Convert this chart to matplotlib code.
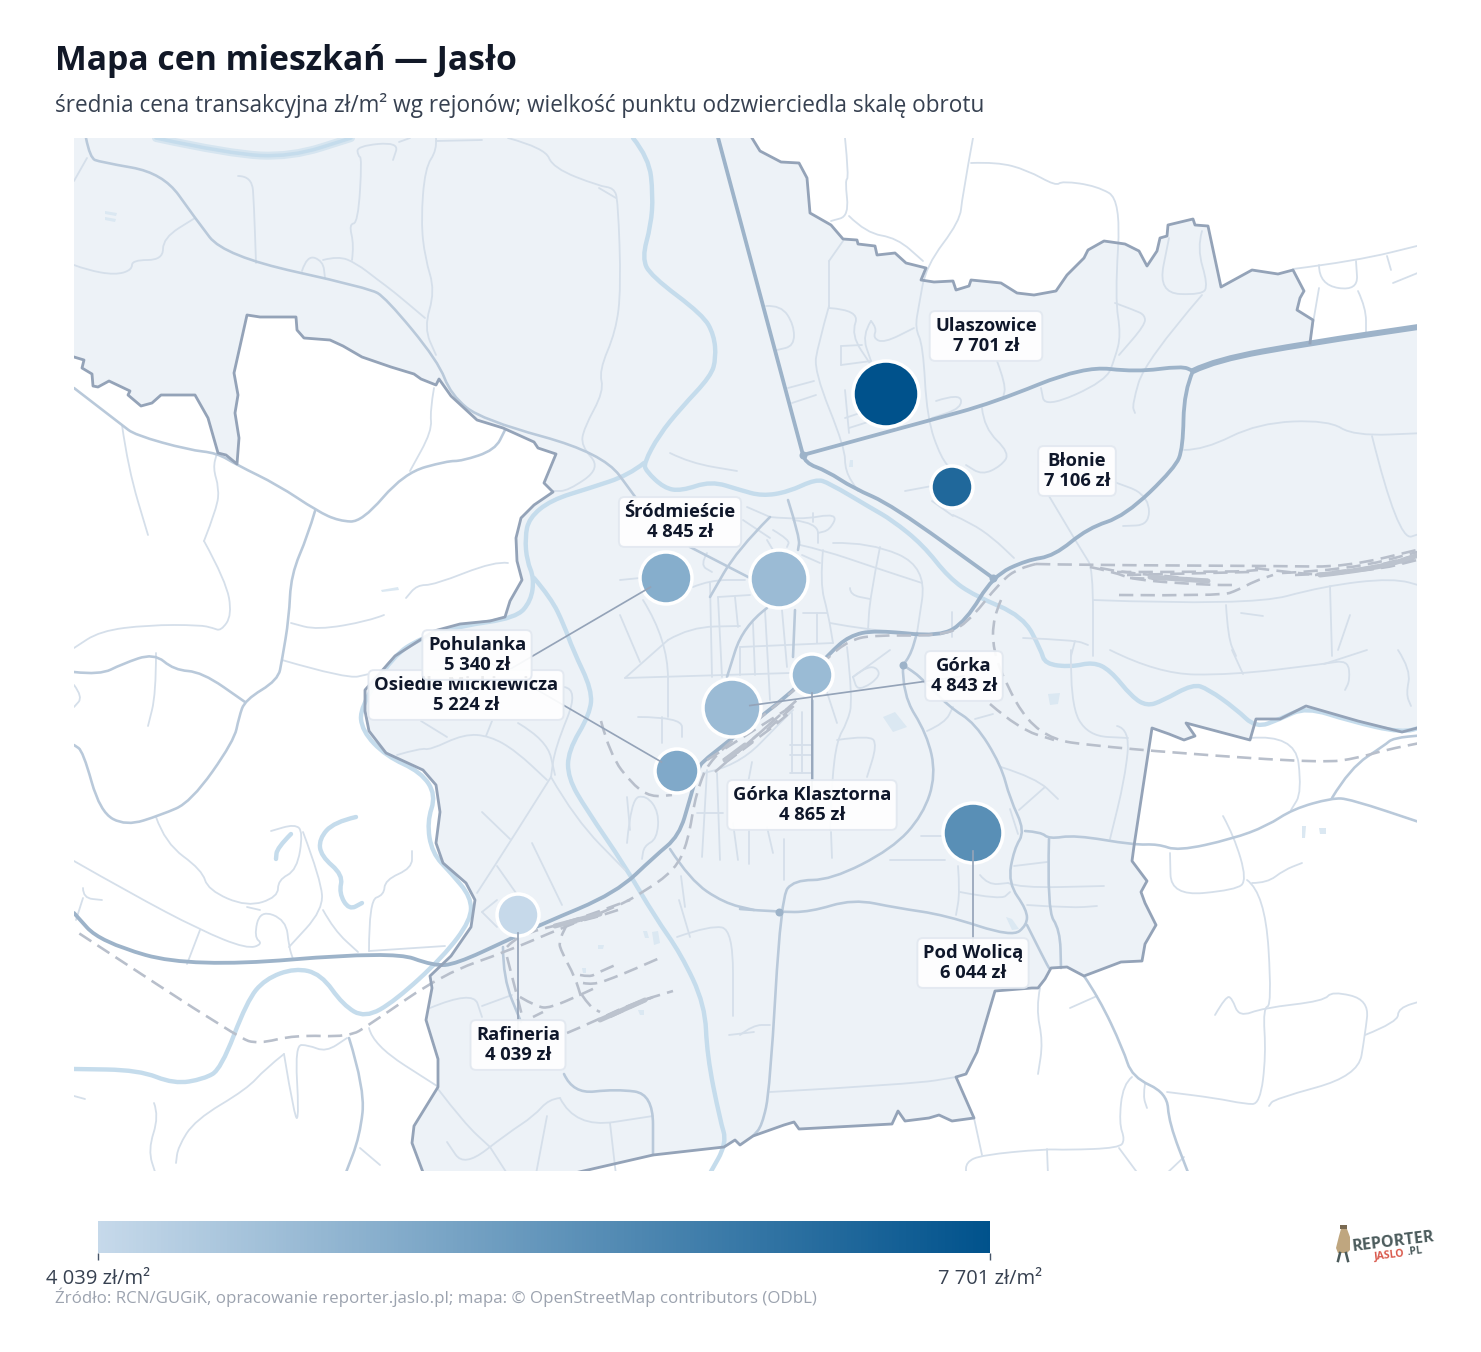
#!/usr/bin/env python3
"""
Mapa cen mieszkan - Jaslo
"""

import matplotlib
matplotlib.use("Agg")
import matplotlib.pyplot as plt
from matplotlib.colors import LinearSegmentedColormap, Normalize
from matplotlib.cm import ScalarMappable
from matplotlib.patches import PathPatch, Polygon
from matplotlib.path import Path

# Districts: price, map position, drawn radius (turnover scale), label centre
REJONY = ["Ulaszowice", "Błonie", "Śródmieście", "Osiedle Mickiewicza", "Pohulanka",
          "Górka", "Górka Klasztorna", "Pod Wolicą", "Rafineria"]
CENY = [7701, 7106, 4845, 5224, 5340, 4843, 4865, 6044, 4039]
PUNKT_X = [886, 952, 779, 666, 677, 732, 812, 973, 518]
PUNKT_Y = [394, 487, 579, 578, 771, 708, 675, 833, 915]
PUNKT_R = [33, 21, 29, 26, 22, 29, 21, 30, 21]
ETYKIETA_X = [986, 1077, 680, 466, 477, 964, 812, 973, 518]
ETYKIETA_Y = [336, 471, 522, 695, 655, 676, 805, 963, 1045]
Z_LINIA = [False, False, False, True, True, True, True, True, True]

# Map geometry, in map units of the reference view
GRANICA_POLUDNIE = [
    (60, 353), (74, 357), (84, 360), (82, 368), (92, 374), (93, 386), (98, 387), (109, 381), (130, 391), (128, 395),
    (141, 406), (152, 403), (161, 395), (195, 395), (208, 418), (218, 453), (226, 455), (237, 464), (239, 438),
    (235, 413), (238, 395), (234, 373), (247, 315), (260, 317), (296, 317), (297, 330), (304, 338), (330, 340),
    (343, 346), (362, 357), (391, 367), (414, 374), (421, 379), (436, 385), (439, 379), (451, 396), (477, 420),
    (503, 428), (534, 442), (538, 448), (556, 454), (544, 483), (553, 492), (534, 505), (521, 518), (516, 538),
    (517, 561), (522, 580), (510, 601), (505, 617), (490, 621), (460, 624), (434, 631), (395, 656), (365, 690),
    (365, 711), (369, 731), (386, 753), (423, 770), (436, 785), (440, 812), (436, 843), (443, 863), (466, 883),
    (475, 900), (471, 927), (451, 956), (430, 976), (432, 988), (426, 1020), (438, 1059), (438, 1087), (414, 1126),
    (412, 1143), (424, 1175), (440, 1195), (550, 1195), (566, 1175), (653, 1155), (724, 1147), (735, 1140),
    (740, 1145), (753, 1136), (784, 1125), (794, 1122), (799, 1129), (892, 1124), (898, 1111), (905, 1121),
    (929, 1118), (939, 1115), (952, 1121), (974, 1118), (956, 1077), (966, 1074), (977, 1052), (995, 991),
    (1032, 988), (1038, 988), (1045, 979), (1051, 968), (1067, 967), (1084, 976), (1121, 962), (1142, 961),
    (1145, 944), (1156, 925), (1145, 903), (1141, 892), (1147, 881), (1132, 861), (1134, 846), (1152, 728),
    (1169, 734), (1184, 740), (1195, 736), (1186, 723), (1250, 740), (1256, 719), (1280, 719), (1306, 706),
    (1358, 721), (1402, 732), (1425, 726),
]
GRANICA_POLNOC = [
    (1310, 343), (1313, 320), (1297, 310), (1300, 298),
    (1304, 291), (1293, 270), (1278, 274), (1252, 270), (1221, 287), (1208, 226), (1195, 225), (1193, 219),
    (1168, 225), (1167, 236), (1160, 238), (1157, 251), (1147, 266), (1139, 251), (1125, 244), (1104, 241),
    (1088, 250), (1084, 258), (1067, 275), (1056, 291), (1034, 295), (1017, 293), (1001, 283), (971, 280),
    (969, 286), (956, 290), (953, 281), (934, 282), (921, 280), (926, 268), (906, 263), (895, 253), (877, 255),
    (875, 246), (858, 244), (857, 240), (843, 239), (831, 225), (810, 213), (807, 178), (799, 163), (781, 162),
    (760, 151), (752, 138), (745, 125),
]
NAROZNIKI = [(60, 125)]

WODA = [
    [(633, 138), (649, 158), (653, 195), (651, 225), (642, 258), (651, 276), (703, 315), (714, 335), (716, 358),
     (711, 376), (681, 408), (659, 435), (644, 463), (646, 471), (664, 488), (681, 491), (711, 481), (740, 490),
     (762, 496), (788, 492), (816, 479), (829, 483), (871, 508), (892, 520), (923, 545), (949, 578), (975, 596),
     (1023, 616), (1041, 650), (1045, 664), (1071, 667), (1093, 662), (1110, 670), (1132, 697), (1147, 706),
     (1162, 701), (1193, 684), (1208, 689), (1236, 709), (1256, 728), (1280, 719), (1306, 707), (1350, 721),
     (1402, 733), (1425, 726)],
    [(644, 463), (629, 475), (590, 488), (551, 500), (529, 518), (525, 538), (527, 561), (534, 578), (531, 601),
     (516, 618), (460, 626), (421, 638), (393, 656), (360, 707), (362, 731), (386, 756), (421, 772), (436, 795),
     (427, 822), (432, 853), (451, 873), (471, 897), (471, 920), (443, 957), (395, 1001), (365, 1018), (343, 1005),
     (321, 974), (295, 968), (265, 979), (247, 1001), (221, 1069), (204, 1079), (174, 1084), (139, 1070), (74, 1069)],
    [(534, 578), (551, 598), (564, 625), (573, 650), (592, 690), (590, 714), (568, 751), (568, 778), (586, 809),
     (625, 866), (655, 917), (681, 954), (705, 1005), (707, 1055), (720, 1120), (727, 1143), (709, 1175)],
    [(356, 817), (334, 822), (319, 839), (321, 856), (343, 875), (339, 893), (349, 910), (362, 903)],
    [(291, 834), (277, 848), (276, 859)],
]
WODA_SZEROKA = [(156, 138), (230, 154), (291, 157), (351, 138)]

STAWY = [
    [(105, 211), (117, 213), (116, 216), (105, 214)], [(105, 217), (116, 219), (115, 222), (105, 220)],
    [(883, 717), (895, 712), (907, 727), (893, 732)], [(1048, 694), (1060, 693), (1058, 704), (1050, 705)],
    [(1006, 917), (1012, 919), (1019, 929), (1012, 930)], [(1302, 826), (1306, 826), (1305, 838), (1302, 838)],
    [(1319, 828), (1326, 828), (1326, 834), (1320, 834)], [(643, 931), (647, 931), (649, 938), (645, 938)],
    [(652, 932), (658, 931), (660, 943), (654, 945)], [(598, 945), (604, 945), (603, 949), (598, 949)],
    [(582, 968), (586, 968), (586, 973), (583, 973)], [(638, 1010), (644, 1010), (644, 1015), (640, 1015)],
    [(850, 460), (853, 460), (853, 467), (849, 467)], [(381, 590), (398, 587), (399, 590), (382, 592)],
]

DROGI_GLOWNE = [
    [(716, 130), (803, 455)],
    [(803, 455), (927, 421), (993, 403), (1084, 366), (1136, 372), (1182, 366), (1193, 371)],
    [(1193, 371), (1184, 391), (1183, 448), (1175, 468), (1125, 516), (1088, 528), (1054, 556), (1027, 560),
     (993, 576), (966, 621), (940, 637), (875, 630), (849, 636), (830, 653), (790, 695), (703, 760), (698, 770),
     (690, 799), (679, 836), (655, 856), (616, 893), (542, 924), (508, 940), (456, 964), (434, 966), (393, 951),
     (191, 968), (100, 942), (74, 913)],
    [(803, 455), (805, 463), (827, 471), (853, 488), (892, 505), (993, 578)],
]
DROGA_SZEROKA = [(1193, 371), (1215, 360), (1310, 343), (1425, 326)]

DROGI_SREDNIE = [
    [(903, 665), (902, 694), (927, 734), (936, 775), (923, 815), (892, 849), (831, 880), (794, 880), (781, 897),
     (770, 1089), (762, 1126), (753, 1136)],
    [(903, 665), (910, 657), (917, 633)],
    [(86, 138), (90, 158), (100, 162), (163, 173), (195, 218), (224, 256), (369, 288), (386, 298), (438, 361),
     (451, 395), (482, 420), (603, 453), (636, 498)],
    [(690, 547), (750, 578)],
    [(74, 388), (122, 425), (135, 435), (189, 450), (217, 453), (237, 465), (278, 485), (317, 511), (339, 521),
     (362, 522), (404, 473), (447, 461), (462, 461), (495, 450), (505, 430)],
    [(315, 511), (308, 535), (291, 575), (289, 618), (282, 660), (278, 680), (245, 700), (239, 717), (234, 741),
     (191, 802), (161, 815), (126, 826), (100, 812), (83, 751), (74, 745)],
    [(74, 672), (100, 675), (122, 664), (154, 653), (174, 670), (202, 672), (245, 702)],
    [(740, 909), (779, 912), (810, 912), (853, 899), (897, 908), (945, 915), (1012, 937), (1027, 925), (1027, 910),
     (1008, 883), (1014, 849), (1025, 831), (1010, 799), (1001, 765), (975, 723), (949, 707), (921, 677), (903, 665)],
    [(1025, 831), (1041, 832), (1049, 839), (1075, 835), (1134, 845), (1158, 844), (1178, 851), (1232, 839),
     (1267, 826), (1293, 809), (1332, 798), (1350, 799), (1425, 824)],
    [(1332, 798), (1350, 768), (1385, 745), (1393, 738), (1425, 735)],
    [(1084, 976), (1099, 998), (1123, 1049), (1132, 1077), (1167, 1093), (1169, 1123), (1189, 1175)],
    [(564, 1074), (573, 1094), (616, 1089), (653, 1094), (653, 1155)],
    [(349, 1038), (365, 1089), (360, 1136), (345, 1175)],
    [(670, 849), (690, 880), (724, 903), (754, 910)],
    [(503, 947), (503, 978), (521, 1022)],
    [(788, 500), (800, 538), (798, 550)],
    [(770, 517), (737, 550), (710, 597)],
    [(767, 608), (743, 626), (727, 677)],
    [(795, 610), (793, 657)],
    [(1049, 839), (1047, 910), (1060, 930), (1061, 968)],
    [(1027, 925), (1045, 961), (1049, 968)],
    [(812, 700), (812, 780)],
]

DROGI_MALE = [
    [(74, 265), (87, 270), (115, 275), (132, 270), (132, 260), (163, 260), (163, 238), (195, 218)],
    [(238, 176), (252, 176), (254, 205), (256, 263)], [(87, 158), (74, 181)],
    [(302, 271), (307, 255), (323, 261), (325, 278)],
    [(323, 260), (338, 256), (356, 263), (378, 280), (393, 291), (425, 318)],
    [(352, 260), (354, 245), (349, 224), (358, 223), (362, 158), (358, 156), (357, 146), (399, 142), (393, 160)],
    [(399, 142), (410, 138)], [(436, 138), (437, 150), (425, 168), (421, 221), (425, 258), (435, 291), (424, 328), (436, 355)],
    [(436, 141), (482, 140)],
    [(508, 138), (545, 148), (553, 168), (599, 186), (614, 188), (618, 201), (621, 288), (616, 331), (599, 371),
     (604, 391), (584, 428), (581, 446), (601, 468), (568, 491), (553, 491)],
    [(670, 453), (690, 463), (737, 471)], [(599, 188), (616, 198)],
    [(434, 388), (430, 411), (432, 431), (410, 471)],
    [(204, 541), (217, 508), (219, 488), (213, 468), (217, 453)],
    [(204, 541), (226, 581), (232, 615), (221, 631), (213, 628), (200, 625), (148, 625), (100, 631), (74, 648)],
    [(122, 425), (128, 468), (148, 535)],
    [(508, 563), (495, 561), (434, 585), (417, 585), (406, 598)], [(384, 615), (369, 621), (317, 630), (291, 623)],
    [(845, 138), (849, 178), (845, 180), (849, 216), (831, 221)], [(849, 216), (866, 233), (897, 238), (923, 261)],
    [(973, 138), (962, 198), (960, 221), (926, 266), (919, 305), (915, 328), (923, 345), (927, 418), (941, 458), (953, 471)],
    [(971, 163), (997, 162), (1027, 170), (1056, 186), (1062, 181), (1097, 186), (1121, 200), (1115, 298), (1121, 335),
     (1115, 358), (1106, 381), (1045, 408), (1041, 388)],
    [(1202, 231), (1197, 248), (1208, 285), (1202, 295), (1158, 293), (1169, 238)],
    [(1202, 295), (1145, 361), (1132, 405), (1135, 413)],
    [(1115, 303), (1134, 310), (1145, 315), (1145, 325), (1119, 355)],
    [(1293, 269), (1356, 261), (1425, 244)], [(1319, 265), (1319, 285), (1358, 291), (1356, 261)],
    [(1319, 288), (1311, 335)], [(1358, 291), (1366, 308), (1366, 333)], [(1387, 256), (1391, 270)], [(1393, 283), (1425, 270)],
    [(766, 306), (781, 305), (794, 325), (794, 346), (777, 350)], [(788, 388), (814, 381)], [(816, 395), (792, 403)],
    [(829, 306), (818, 345), (814, 371), (845, 448), (845, 471), (858, 491)], [(829, 261), (843, 241)], [(829, 261), (829, 308)],
    [(829, 308), (860, 310), (851, 335), (871, 365)], [(871, 321), (877, 328), (873, 338), (884, 343), (914, 328)],
    [(871, 321), (862, 335), (871, 361)], [(841, 346), (862, 345)], [(841, 365), (871, 361)], [(841, 346), (841, 365)],
    [(845, 390), (849, 433)], [(845, 418), (866, 411)], [(849, 428), (871, 421)],
    [(936, 401), (960, 393), (962, 408), (932, 418)], [(997, 361), (1006, 385), (1003, 398)],
    [(982, 408), (984, 428), (1010, 453), (1001, 466), (982, 475), (966, 465)],
    [(953, 515), (971, 523), (993, 538), (1014, 558)], [(905, 491), (932, 486)], [(932, 501), (953, 516)],
    [(1049, 496), (1084, 555), (1093, 568), (1093, 656)],
    [(1041, 461), (1123, 483), (1149, 498), (1149, 525), (1123, 526)],
    [(1184, 450), (1204, 450), (1258, 423), (1328, 420), (1354, 436), (1425, 433)],
    [(1372, 436), (1398, 541), (1425, 532)],
    [(1093, 600), (1250, 606), (1324, 586), (1393, 578), (1425, 587)], [(1330, 586), (1332, 656)],
    [(1226, 605), (1228, 638), (1236, 656)], [(1023, 638), (1075, 640), (1088, 645)], [(1075, 641), (1071, 656)],
    [(1241, 613), (1263, 616)], [(1350, 615), (1338, 650)],
    [(1071, 650), (1070, 704), (1088, 736), (1128, 738)],
    [(1110, 650), (1158, 674), (1232, 675), (1324, 664), (1348, 660), (1350, 680), (1345, 690)],
    [(1232, 650), (1243, 674)], [(1324, 664), (1367, 650)], [(1398, 650), (1411, 670), (1406, 694), (1411, 706)],
    [(1117, 726), (1130, 729), (1125, 778), (1110, 839)],
    [(1250, 738), (1295, 734), (1302, 792), (1291, 810)],
    [(1223, 816), (1234, 836), (1247, 880), (1236, 890), (1171, 896), (1170, 853)],
    [(1247, 880), (1265, 893), (1272, 1005), (1263, 1008), (1266, 1055), (1260, 1104), (1245, 1104), (1215, 1098), (1167, 1092)],
    [(1252, 883), (1267, 883), (1284, 870), (1302, 863)],
    [(1215, 1015), (1226, 996), (1232, 998), (1239, 1017), (1263, 1008), (1324, 1001), (1332, 991), (1369, 1000),
     (1365, 1035), (1358, 1076), (1274, 1099), (1269, 1106)],
    [(1365, 1035), (1398, 1022), (1398, 1008), (1425, 1000)],
    [(1132, 1077), (1123, 1084), (1119, 1123), (1125, 1140), (1119, 1148), (1067, 1150), (1045, 1149), (982, 1155), (966, 1162), (966, 1175)],
    [(1119, 1148), (1139, 1175)], [(1047, 1149), (1048, 1175)], [(974, 1118), (982, 1155)], [(1184, 1157), (1165, 1175)],
    [(1145, 1084), (1143, 1096), (1147, 1108)], [(1070, 1008), (1097, 996)],
    [(1040, 988), (1036, 1008), (1043, 1042), (1038, 1074)],
    [(1008, 883), (1019, 888), (1104, 886)], [(1027, 905), (1071, 908), (1097, 906)], [(1014, 866), (1047, 862)],
    [(958, 866), (960, 892), (956, 915)], [(960, 892), (1001, 900), (1010, 892)], [(980, 875), (988, 885), (1008, 883)],
    [(890, 860), (945, 860)], [(921, 836), (945, 836)],
    [(1001, 767), (1036, 778), (1058, 799)], [(1045, 787), (1019, 810)], [(1010, 809), (1018, 834)],
    [(975, 719), (993, 714)], [(927, 731), (945, 723), (953, 707)],
    [(770, 1092), (914, 1084), (956, 1077)], [(740, 1035), (753, 1025), (770, 1025)],
    [(430, 1008), (473, 990), (482, 1017)], [(482, 1006), (512, 995)],
    [(560, 1098), (575, 1128), (653, 1116)], [(560, 1098), (549, 1099), (534, 1116), (508, 1133), (464, 1167), (447, 1142)],
    [(547, 1116), (536, 1174)], [(490, 1147), (508, 1175)], [(610, 1123), (616, 1175)],
    [(438, 1089), (464, 1123), (490, 1147)],
    [(360, 1148), (380, 1165)], [(369, 1028), (373, 1045), (437, 1086)],
    [(284, 1054), (295, 1121), (299, 1115), (295, 1045), (308, 1045), (326, 1052), (347, 1038)],
    [(284, 1054), (265, 1069), (247, 1089), (195, 1120), (178, 1147), (176, 1163)],
    [(154, 1103), (159, 1116), (148, 1150), (156, 1175)], [(74, 1096), (85, 1099)],
    [(156, 653), (156, 694), (148, 726)],
    [(74, 861), (130, 893), (200, 930), (247, 949), (263, 944), (254, 937), (260, 910), (286, 920), (289, 947), (293, 959)],
    [(200, 930), (187, 964)],
    [(156, 817), (165, 843), (202, 870), (208, 890), (247, 907), (278, 897), (278, 880), (297, 870), (303, 832), (295, 824), (271, 831)],
    [(247, 907), (260, 910)], [(303, 832), (321, 880), (323, 910), (289, 947)],
    [(323, 910), (334, 930), (358, 952)],
    [(369, 951), (369, 900), (384, 895), (385, 880), (412, 868), (412, 851)], [(369, 951), (445, 946)],
    [(83, 888), (83, 898), (102, 900)], [(83, 898), (76, 920)], [(74, 685), (83, 697), (74, 707)],
    [(282, 660), (347, 679), (369, 674)],
    [(397, 755), (421, 748), (430, 750), (464, 734), (490, 736), (516, 751), (547, 780)],
    [(421, 721), (447, 737)], [(492, 721), (486, 736)], [(518, 723), (547, 740), (555, 775)],
    [(551, 777), (512, 839), (477, 893)], [(564, 687), (579, 689), (555, 748), (551, 777)],
    [(551, 777), (575, 819), (625, 870)], [(482, 812), (510, 839)], [(532, 843), (562, 905)], [(497, 866), (516, 893)],
    [(482, 912), (497, 900)], [(482, 912), (497, 927)],
    [(681, 876), (685, 907)], [(677, 937), (711, 925), (733, 930), (733, 1016)], [(690, 937), (679, 900)],
    [(729, 1035), (754, 1032)],
    [(627, 843), (631, 799), (646, 795), (659, 812), (657, 839), (644, 846), (642, 859)],
    # city centre
    [(620, 580), (640, 578)], [(693, 587), (710, 580), (745, 580)],
    [(643, 600), (668, 640), (668, 717)], [(668, 640), (690, 627), (740, 626)], [(620, 615), (640, 662)],
    [(625, 678), (668, 640)], [(625, 678), (790, 673)], [(710, 583), (712, 677)], [(718, 597), (722, 677)],
    [(718, 597), (750, 595)], [(735, 597), (738, 627)], [(770, 517), (800, 520), (838, 513), (830, 530), (818, 533)],
    [(793, 520), (818, 523), (818, 543)], [(813, 513), (813, 522)],
    [(800, 545), (823, 550), (873, 567), (922, 583)], [(802, 555), (820, 563)],
    [(833, 543), (870, 542), (927, 567), (917, 633)], [(880, 547), (870, 597), (868, 630)],
    [(850, 588), (850, 595), (870, 599)], [(823, 550), (820, 583), (828, 613), (833, 643)], [(830, 623), (868, 630), (917, 633)],
    [(753, 623), (755, 675)], [(765, 610), (770, 700)], [(782, 610), (787, 667)], [(817, 613), (817, 643)],
    [(803, 613), (827, 613)], [(740, 647), (833, 643)], [(740, 647), (740, 675)],
    [(743, 520), (770, 538)], [(747, 507), (770, 517)],
    [(773, 530), (790, 540), (787, 547)], [(767, 540), (773, 550)], [(707, 553), (700, 565), (712, 572)],
    [(952, 612), (952, 637)], [(638, 717), (682, 717), (682, 737)], [(662, 717), (662, 743)],
    [(847, 647), (853, 700), (847, 723), (837, 740), (832, 780), (830, 830)],
    [(853, 677), (870, 663), (883, 675), (858, 692), (853, 677)], [(890, 650), (853, 677)], [(903, 665), (920, 677)],
    [(792, 713), (792, 773)], [(802, 712), (802, 773)], [(790, 745), (812, 745)], [(790, 755), (812, 755)], [(790, 773), (812, 773)],
    [(837, 740), (870, 735), (877, 745), (867, 777)], [(823, 680), (837, 723)],
    [(703, 773), (737, 767), (783, 720), (793, 710)], [(707, 770), (702, 857)], [(717, 773), (720, 860)],
    [(733, 823), (738, 860)], [(752, 762), (748, 783)], [(697, 813), (723, 813)], [(767, 827), (773, 853)],
    [(749, 829), (749, 864)], [(831, 832), (832, 858)], [(784, 880), (784, 839)], [(627, 797), (630, 830)],
]

TORY = [
    [(1036, 564), (1019, 568), (1001, 581), (966, 625), (940, 636), (871, 635), (849, 641), (829, 656), (790, 695),
     (712, 755), (696, 792), (688, 842), (675, 870), (642, 893), (616, 907), (564, 927), (508, 951), (443, 974),
     (369, 1025), (349, 1037), (295, 1035), (258, 1044), (239, 1038), (74, 930)],
    [(1036, 564), (1080, 565), (1282, 566), (1346, 567), (1425, 548)],
    [(1090, 567), (1114, 572), (1134, 580), (1208, 585), (1235, 585)], [(1100, 568), (1124, 573), (1181, 577), (1208, 582)],
    [(1117, 572), (1235, 572), (1258, 570)], [(1127, 575), (1208, 573), (1250, 572)], [(1130, 578), (1181, 580), (1208, 580)],
    [(1255, 568), (1285, 572), (1322, 575), (1349, 573), (1425, 553)], [(1282, 573), (1349, 570), (1425, 550)],
    [(1295, 575), (1369, 572), (1425, 558)], [(1315, 575), (1376, 570), (1425, 555)], [(1332, 572), (1383, 567), (1425, 552)],
    [(1119, 595), (1221, 596), (1238, 590), (1255, 581), (1273, 575)],
    [(1001, 600), (993, 618), (993, 650), (1006, 684), (1027, 721), (1054, 740), (1088, 745), (1176, 753), (1324, 763),
     (1358, 758), (1385, 750), (1425, 742)],
    [(990, 704), (1019, 729), (1054, 740)],
    [(507, 947), (517, 935), (567, 923), (630, 900)], [(563, 925), (587, 920), (618, 910)],
    [(568, 923), (558, 940), (562, 953), (575, 977), (582, 1000)], [(580, 975), (590, 977), (597, 973), (620, 963)],
    [(583, 983), (593, 985), (613, 978), (637, 968), (662, 957)],
    [(520, 997), (537, 1007), (550, 1008), (580, 995), (597, 987)], [(533, 1017), (543, 1012)],
    [(582, 995), (590, 1007), (600, 1012)], [(567, 1033), (593, 1022), (633, 1003), (673, 991)],
    [(600, 1020), (650, 998)], [(610, 1017), (653, 997)], [(507, 957), (520, 1007), (523, 1020)],
    [(601, 721), (610, 755), (633, 785), (651, 797), (672, 795)],
    [(707, 760), (797, 703)], [(723, 760), (757, 740), (793, 710)], [(725, 763), (753, 742)], [(737, 753), (797, 700)],
    [(767, 730), (797, 703)], [(715, 772), (780, 715)],
]
# sidings packed so tightly that they read as a solid band
TORY_GESTE = [
    [(1320, 575), (1376, 569), (1425, 553)],
    [(1150, 577), (1208, 581)],
    [(600, 1020), (645, 1000)],
    [(555, 926), (600, 914)],
    [(725, 760), (745, 745)],
]

WEZLY_X = [803, 993, 903, 779]
WEZLY_Y = [455, 578, 665, 912]

KOLOR_WYPELNIENIE = "#edf2f7"
cmap = LinearSegmentedColormap.from_list("ceny", ["#c6d9ea", "#00528c"])
norm = Normalize(min(CENY), max(CENY))
PX = 72 / 100  # points per pixel at dpi=100


def smooth(pts):
    """Path through the midpoints of a polyline, so map lines bend softly"""
    verts = [pts[0]]
    codes = [Path.MOVETO]
    for i in range(1, len(pts) - 1):
        mid = ((pts[i][0] + pts[i + 1][0]) / 2, (pts[i][1] + pts[i + 1][1]) / 2)
        verts += [pts[i], mid]
        codes += [Path.CURVE3, Path.CURVE3]
    verts.append(pts[-1])
    codes.append(Path.LINETO)
    return Path(verts, codes)


def draw_lines(ax, lines, color, width, zorder, **kw):
    for pts in lines:
        ax.add_patch(PathPatch(smooth(pts), fc="none", ec=color, lw=width * PX, zorder=zorder,
                               capstyle="butt" if "linestyle" in kw else "round", joinstyle="round", **kw))


def draw_map(ax):
    obszar = GRANICA_POLUDNIE + [(1425, 326)] + GRANICA_POLNOC + NAROZNIKI
    ax.add_patch(Polygon(obszar, closed=True, fc=KOLOR_WYPELNIENIE, ec="none", zorder=1))
    draw_lines(ax, [WODA_SZEROKA], "#d6e5f0", 8, 2)
    draw_lines(ax, [WODA_SZEROKA], "#c5dcec", 3.5, 2)
    draw_lines(ax, WODA, "#c5dcec", 4.4, 2)
    for staw in STAWY:
        ax.add_patch(Polygon(staw, closed=True, fc="#dbe8f2", ec="none", zorder=2))
    draw_lines(ax, DROGI_MALE, "#d5dfea", 1.8, 3)
    draw_lines(ax, DROGI_SREDNIE, "#b9c9da", 2.6, 4)
    draw_lines(ax, DROGI_GLOWNE, "#9db3c9", 3.8, 5)
    draw_lines(ax, [DROGA_SZEROKA], "#9db3c9", 6, 5)
    ax.plot(WEZLY_X, WEZLY_Y, "o", ms=8 * PX, color="#9db3c9", mec="none", zorder=5)
    draw_lines(ax, TORY, "#b8bfcb", 2.6, 6, linestyle=(0, (5.5, 2.8)))
    draw_lines(ax, TORY_GESTE, "#bcc3ce", 5, 6)
    ax.plot(*zip(*GRANICA_POLUDNIE), color="#94a3b8", lw=2.8 * PX, zorder=7, solid_joinstyle="round")
    ax.plot(*zip(*GRANICA_POLNOC), color="#94a3b8", lw=2.8 * PX, zorder=7, solid_joinstyle="round")


def draw_points(ax):
    sizes = [(2 * r * PX) ** 2 for r in PUNKT_R]
    ax.scatter(PUNKT_X, PUNKT_Y, s=sizes, c=CENY, cmap=cmap, norm=norm,
               edgecolors="white", linewidths=3.5 * PX, zorder=8)
    for i, name in enumerate(REJONY):
        if Z_LINIA[i]:
            dx = ETYKIETA_X[i] - PUNKT_X[i]
            dy = ETYKIETA_Y[i] - PUNKT_Y[i]
            d = (dx * dx + dy * dy) ** 0.5
            ax.plot([PUNKT_X[i] + dx / d * 18, ETYKIETA_X[i]], [PUNKT_Y[i] + dy / d * 18, ETYKIETA_Y[i]],
                    color="#94a3b8", lw=1.7 * PX, zorder=9)
        ax.text(ETYKIETA_X[i], ETYKIETA_Y[i], f"{name}\n{CENY[i]:,} zł".replace(",", " "),
                ha="center", va="center", fontsize=13.2, fontweight="bold", color="#0f172a",
                linespacing=1.2, zorder=10 + i,
                bbox=dict(boxstyle="round,pad=0.3", fc="white", ec="#e2e8f0", lw=1.4, alpha=0.92))


def draw_logo(page):
    page.add_patch(Polygon([(1341, 1229), (1347, 1229), (1350, 1237), (1350, 1250), (1347, 1253), (1338, 1253),
                            (1336, 1248), (1339, 1236)], closed=True, fc="#bfa67f", ec="none"))
    page.add_patch(Polygon([(1340, 1225), (1347, 1225), (1347, 1229), (1340, 1229)], closed=True, fc="#7a6a52", ec="none"))
    page.plot([1340, 1338], [1253, 1261], color="#4a5a5a", lw=1.8)
    page.plot([1346, 1348], [1253, 1261], color="#4a5a5a", lw=1.8)
    page.text(1393.5, 1242, "REPORTER", ha="center", va="center", fontsize=11.6, fontweight="bold",
              color="#4b5b5c", rotation=7)
    page.text(1389, 1255, "JASLO", ha="center", va="center", fontsize=7.6, fontweight="bold",
              color="#d9594c", rotation=7)
    page.text(1414.5, 1251.5, ".PL", ha="center", va="center", fontsize=7.6, fontweight="bold",
              color="#4b5b5c", rotation=7)


def create_visualization():
    plt.rcParams["font.family"] = ["Open Sans", "DejaVu Sans"]
    W, H = 1481, 1352
    fig = plt.figure(figsize=(W / 100, H / 100), dpi=100, facecolor="white")

    # Map
    ax = fig.add_axes([74 / W, 1 - 1171 / H, (1417 - 74) / W, (1171 - 138) / H])
    ax.set_xlim(74, 1417)
    ax.set_ylim(1171, 138)
    ax.axis("off")
    draw_map(ax)
    draw_points(ax)

    # Text and logo, placed in figure pixels
    page = fig.add_axes([0, 0, 1, 1], facecolor="none")
    page.set_xlim(0, W)
    page.set_ylim(H, 0)
    page.axis("off")
    page.text(55, 61.5, "Mapa cen mieszkań — Jasło", fontsize=24.3, fontweight="bold", color="#111827", va="center")
    page.text(55, 106, "średnia cena transakcyjna zł/m² wg rejonów; wielkość punktu odzwierciedla skalę obrotu",
              fontsize=16.33, color="#374151", va="center")
    page.text(55, 1297, "Źródło: RCN/GUGiK, opracowanie reporter.jaslo.pl; mapa: © OpenStreetMap contributors (ODbL)",
              fontsize=12.2, color="#9ca3af", va="center")
    draw_logo(page)

    # Colour scale
    cax = fig.add_axes([98 / W, 1 - 1253 / H, (990 - 98) / W, 32 / H])
    cb = fig.colorbar(ScalarMappable(norm=norm, cmap=cmap), cax=cax, orientation="horizontal")
    cb.outline.set_visible(False)
    cb.set_ticks([min(CENY), max(CENY)], labels=["4 039 zł/m²", "7 701 zł/m²"])
    cax.tick_params(length=5, width=1, color="#475569", labelsize=14.5, labelcolor="#374151", pad=6.5)

    fig.savefig("out.png", dpi=100)


def main():
    create_visualization()


if __name__ == "__main__":
    main()
